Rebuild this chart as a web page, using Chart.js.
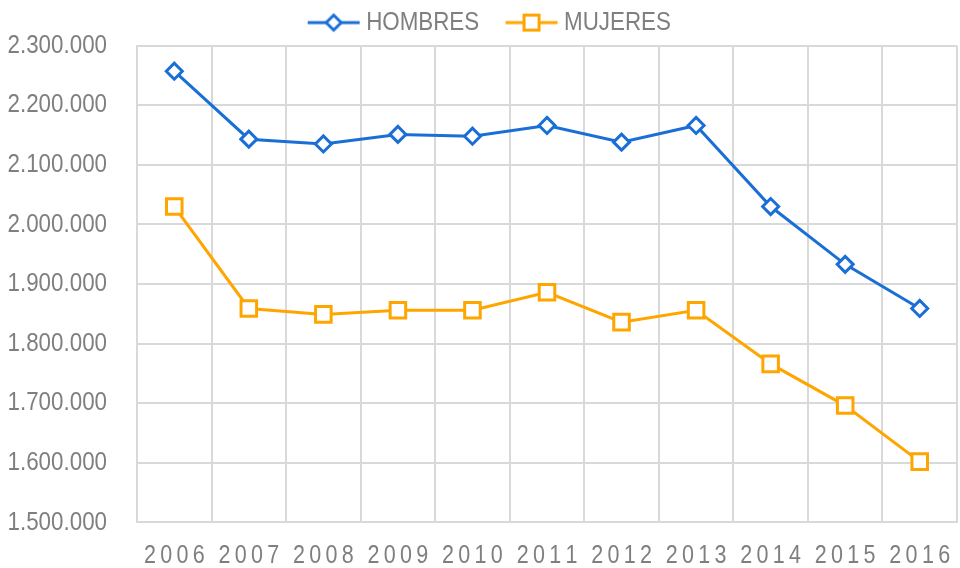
<!DOCTYPE html>
<html>
<head>
<meta charset="utf-8">
<script src="https://cdn.jsdelivr.net/npm/chart.js@4/dist/chart.umd.min.js"></script>
<style>
  html, body { margin: 0; padding: 0; background: #fff; }
  #wrap { width: 960px; height: 568px; }
</style>
</head>
<body>
<div id="wrap"><canvas id="chart"></canvas></div>
<script>
// Data
const years = ['2006', '2007', '2008', '2009', '2010', '2011', '2012', '2013', '2014', '2015', '2016'];
const hombres = [2257000, 2143000, 2135000, 2151000, 2148000, 2166000, 2138000, 2166000, 2030000, 1933000, 1859000];
const mujeres = [2030000, 1859000, 1849000, 1856000, 1856000, 1886000, 1836000, 1856000, 1766000, 1696000, 1602000];

const BLUE = '#1a6fd6';
const ORANGE = '#ffa500';
const GREY = '#7f7f7f';
const FONT = "'Liberation Sans', Arial, sans-serif";
const SX = 0.86; // the original text is a narrow face: squeeze it horizontally

// legend icon: short line with the marker in the middle
function legendIcon(color, style) {
  const c = document.createElement('canvas');
  c.width = 54; c.height = 24;
  const g = c.getContext('2d');
  g.strokeStyle = color;
  g.lineWidth = 3;
  g.beginPath(); g.moveTo(1, 12); g.lineTo(53, 12); g.stroke();
  g.fillStyle = '#fff';
  g.beginPath();
  if (style === 'diamond') {
    g.moveTo(27, 4.5); g.lineTo(34.5, 12); g.lineTo(27, 19.5); g.lineTo(19.5, 12); g.closePath();
  } else {
    g.rect(19.5, 4.5, 15, 15);
  }
  g.fill(); g.stroke();
  return c;
}

function fmt(v) {
  return String(v).replace(/\B(?=(\d{3})+(?!\d))/g, '.');
}

// condensed text on this canvas
const canvas = document.getElementById('chart');
const ctx = canvas.getContext('2d');
const origFill = ctx.fillText;
const origMeasure = ctx.measureText;
ctx.fillText = function (t, x, y, mw) {
  this.save();
  this.translate(x, y);
  this.scale(SX, 1);
  origFill.call(this, t, 0, 0, mw);
  this.restore();
};
ctx.measureText = function (t) {
  const m = origMeasure.call(this, t);
  return { width: m.width * SX, actualBoundingBoxAscent: m.actualBoundingBoxAscent, actualBoundingBoxDescent: m.actualBoundingBoxDescent };
};

// the legend sits a little right of the canvas centre in the original
const legendShift = {
  id: 'legendShift',
  afterLayout(chart) {
    chart.legend.left += 10;
    chart.legend.right += 10;
  }
};

new Chart(ctx, {
  type: 'line',
  data: {
    labels: years,
    datasets: [
      { label: 'HOMBRES', data: hombres, borderColor: BLUE, borderWidth: 3, pointStyle: 'rectRot',
        pointRadius: 8, pointBorderWidth: 3, pointBackgroundColor: '#fff', pointBorderColor: BLUE, tension: 0 },
      { label: 'MUJERES', data: mujeres, borderColor: ORANGE, borderWidth: 3, pointStyle: 'rect',
        pointRadius: 11, pointBorderWidth: 3, pointBackgroundColor: '#fff', pointBorderColor: ORANGE, tension: 0 }
    ]
  },
  plugins: [legendShift],
  options: {
    responsive: true,
    maintainAspectRatio: false,
    animation: false,
    layout: { autoPadding: false, padding: { left: 8, right: 3, top: 0, bottom: 0 } },
    plugins: {
      tooltip: { enabled: false },
      legend: {
        position: 'top',
        labels: {
          usePointStyle: true,
          pointStyleWidth: 39,
          color: GREY,
          padding: 8,
          font: { family: FONT, size: 26 },
          generateLabels: chart => chart.data.datasets.map((ds, i) => ({
            text: i === 0 ? ds.label + '    ' : ds.label,
            fontColor: GREY,
            pointStyle: legendIcon(ds.borderColor, i === 0 ? 'diamond' : 'square'),
            datasetIndex: i,
            hidden: false,
            lineWidth: 0
          }))
        }
      }
    },
    scales: {
      x: {
        offset: true,
        grid: { offset: true, color: '#d9d9d9', lineWidth: 2, drawTicks: false },
        border: { color: '#d9d9d9', width: 2 },
        ticks: {
          color: GREY, padding: 19, maxRotation: 0, autoSkip: false,
          font: { family: FONT, size: 25 },
          callback: function (v) { return this.getLabelForValue(v).split('').join('\u2009'); }
        },
        afterFit: s => { s.height = 45; s.paddingLeft = 0; s.paddingRight = 0; }
      },
      y: {
        min: 1500000, max: 2300000,
        grid: { color: '#d9d9d9', lineWidth: 2, drawTicks: false },
        border: { color: '#d9d9d9', width: 2 },
        ticks: {
          stepSize: 100000, color: GREY, padding: 30,
          font: { family: FONT, size: 26 },
          callback: v => fmt(v)
        },
        afterFit: s => { s.width = 129; }
      }
    }
  }
});
</script>
</body>
</html>
